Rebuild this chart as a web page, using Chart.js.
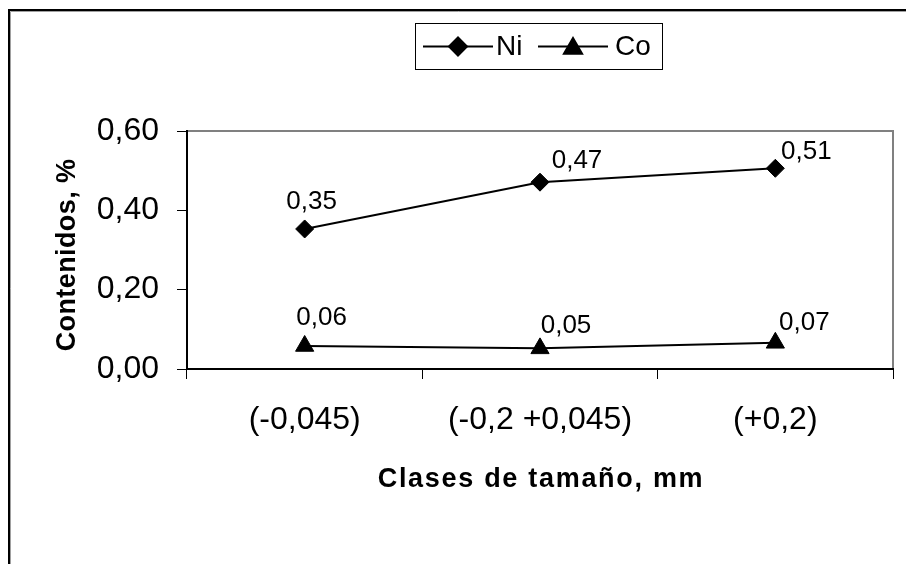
<!DOCTYPE html>
<html>
<head>
<meta charset="utf-8">
<script src="https://cdn.jsdelivr.net/npm/chart.js@4.4.1/dist/chart.umd.min.js"></script>
<style>
  html, body { margin: 0; padding: 0; background: #fff; }
  #wrap { width: 906px; height: 564px; }
</style>
</head>
<body>
<div id="wrap"><canvas id="chart" width="906" height="564"></canvas></div>
<script>
// ---------------- Data ----------------
const categories = ['(-0,045)', '(-0,2 +0,045)', '(+0,2)'];
const niValues = [0.353, 0.471, 0.506];
const coValues = [0.058, 0.052, 0.066];
const seriesNames = ['Ni', 'Co'];
const yMin = 0, yMax = 0.6, yStep = 0.2;
const xTitle = 'Clases de tamaño, mm';
const yTitle = 'Contenidos, %';

// label offsets (label centre relative to its point), per series
const labelOffsets = [
  [[7, -27], [37, -21], [31, -16]],
  [[17, -28], [26, -23], [29, -20]]
];

const FONT = '"Liberation Sans", Arial, sans-serif';
const fmt = v => v.toFixed(2).replace('.', ',');

// ---------------- Plugins ----------------
const framePlugin = {
  id: 'frame',
  beforeDraw(chart) {
    const { ctx, chartArea: a, width, height } = chart;
    ctx.save();
    ctx.fillStyle = '#fff';
    ctx.fillRect(0, 0, width, height);
    // outer chart border (only top/left visible)
    ctx.strokeStyle = '#000';
    ctx.lineWidth = 2;
    ctx.beginPath();
    ctx.moveTo(9, height + 5); ctx.lineTo(9, 10); ctx.lineTo(width + 5, 10);
    ctx.stroke();
    ctx.strokeStyle = '#a0a0a0';
    ctx.lineWidth = 1;
    ctx.beginPath();
    ctx.moveTo(10.5, height + 5); ctx.lineTo(10.5, 11.5); ctx.lineTo(width + 5, 11.5);
    ctx.stroke();
    // plot area top / right in gray
    ctx.strokeStyle = '#808080';
    ctx.lineWidth = 2;
    ctx.beginPath();
    ctx.moveTo(a.left, a.top); ctx.lineTo(a.right, a.top); ctx.lineTo(a.right, a.bottom);
    ctx.stroke();
    ctx.restore();
  }
};

const labelsPlugin = {
  id: 'pointLabels',
  afterDatasetsDraw(chart) {
    const { ctx } = chart;
    ctx.save();
    ctx.font = '26px ' + FONT;
    ctx.fillStyle = '#000';
    ctx.textAlign = 'center';
    ctx.textBaseline = 'middle';
    chart.data.datasets.forEach((ds, i) => {
      chart.getDatasetMeta(i).data.forEach((pt, j) => {
        const off = labelOffsets[i][j];
        ctx.fillText(fmt(ds.data[j]), pt.x + off[0], pt.y + off[1]);
      });
    });
    ctx.restore();
  }
};

const titlesPlugin = {
  id: 'axisTitles',
  afterDraw(chart) {
    const { ctx } = chart;
    ctx.save();
    ctx.fillStyle = '#000';
    ctx.font = 'bold 27px ' + FONT;
    ctx.textAlign = 'center';
    ctx.textBaseline = 'alphabetic';
    ctx.letterSpacing = '1.7px';
    ctx.fillText(xTitle, 541, 487);
    ctx.letterSpacing = '0.4px';
    ctx.translate(75, 255);
    ctx.rotate(-Math.PI / 2);
    ctx.fillText(yTitle, 0, 0);
    ctx.restore();
  }
};

const legendPlugin = {
  id: 'boxLegend',
  afterDraw(chart) {
    const { ctx } = chart;
    const box = { x: 415.5, y: 23.5, w: 247, h: 46 };
    const cy = box.y + box.h / 2;
    const items = [
      { x1: 423, x2: 493, tx: 496 },
      { x1: 538, x2: 608, tx: 615 }
    ];
    ctx.save();
    ctx.strokeStyle = '#000';
    ctx.lineWidth = 1;
    ctx.strokeRect(box.x, box.y, box.w, box.h);
    ctx.font = '28px ' + FONT;
    ctx.textBaseline = 'middle';
    ctx.textAlign = 'left';
    chart.data.datasets.forEach((ds, i) => {
      const it = items[i];
      ctx.strokeStyle = ds.borderColor;
      ctx.lineWidth = ds.borderWidth;
      ctx.beginPath();
      ctx.moveTo(it.x1, cy); ctx.lineTo(it.x2, cy);
      ctx.stroke();
      ctx.fillStyle = '#000';
      Chart.helpers.drawPoint(ctx, {
        pointStyle: ds.pointStyle, radius: ds.pointRadius, rotation: 0, borderWidth: 1
      }, (it.x1 + it.x2) / 2, cy + (ds.pointStyle === 'triangle' ? 2 : 0));
      ctx.fillStyle = '#000';
      ctx.fillText(seriesNames[i], it.tx, cy + 1);
    });
    ctx.restore();
  }
};

// ---------------- Chart ----------------
const ctx = document.getElementById('chart').getContext('2d');
new Chart(ctx, {
  type: 'line',
  data: {
    labels: categories,
    datasets: [
      {
        label: seriesNames[0],
        data: niValues,
        borderColor: '#000',
        backgroundColor: '#000',
        borderWidth: 2,
        pointStyle: 'rectRot',
        pointRadius: 9,
        pointBorderWidth: 1,
        tension: 0
      },
      {
        label: seriesNames[1],
        data: coValues,
        borderColor: '#000',
        backgroundColor: '#000',
        borderWidth: 2,
        pointStyle: 'triangle',
        pointRadius: 10.5,
        pointBorderWidth: 1,
        tension: 0
      }
    ]
  },
  options: {
    responsive: false,
    animation: false,
    layout: { padding: { top: 131, right: 13, left: 0, bottom: 0 } },
    plugins: {
      legend: { display: false },
      tooltip: { enabled: false }
    },
    scales: {
      x: {
        type: 'category',
        offset: true,
        afterFit: s => { s.height = 195; },
        grid: { offset: true, drawOnChartArea: false, drawTicks: true, tickLength: 10, color: '#000', lineWidth: 1 },
        border: { display: true, color: '#000', width: 2 },
        ticks: { color: '#000', font: { family: FONT, size: 32 }, padding: 22, maxRotation: 0, autoSkip: false }
      },
      y: {
        min: yMin,
        max: yMax,
        afterFit: s => { s.width = 187; },
        grid: { drawOnChartArea: false, drawTicks: true, tickLength: 10, color: '#000', lineWidth: 1 },
        border: { display: true, color: '#000', width: 2 },
        ticks: { stepSize: yStep, color: '#000', font: { family: FONT, size: 32 }, padding: 18, callback: v => fmt(v) }
      }
    }
  },
  plugins: [framePlugin, labelsPlugin, titlesPlugin, legendPlugin]
});
</script>
</body>
</html>
